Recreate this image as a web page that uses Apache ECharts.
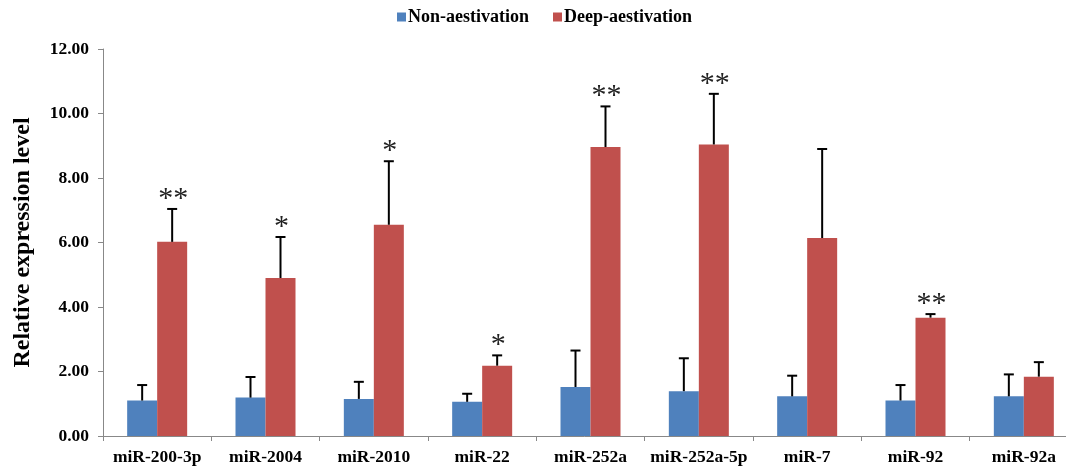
<!DOCTYPE html>
<html>
<head>
<meta charset="utf-8">
<script src="https://cdn.jsdelivr.net/npm/echarts@6/dist/echarts.min.js"></script>
<style>
  html, body { margin: 0; padding: 0; background: #fff; }
  #chart { width: 1066px; height: 469px; }
</style>
</head>
<body>
<div id="chart"></div>
<script>
// 类别与数据
var categories = ['miR-200-3p', 'miR-2004', 'miR-2010', 'miR-22', 'miR-252a', 'miR-252a-5p', 'miR-7', 'miR-92', 'miR-92a'];
var nonMean = [1.10, 1.19, 1.15, 1.06, 1.52, 1.39, 1.23, 1.10, 1.23];
var nonErrTop = [1.58, 1.83, 1.68, 1.31, 2.65, 2.41, 1.87, 1.58, 1.91];
var deepMean = [6.02, 4.90, 6.55, 2.18, 8.96, 9.04, 6.14, 3.67, 1.84];
var deepErrTop = [7.04, 6.17, 8.52, 2.50, 10.22, 10.61, 8.90, 3.78, 2.29];
var marks = ['**', '*', '*', '*', '**', '**', '', '**', ''];
var yTicks = [0, 2, 4, 6, 8, 10, 12];

var barW = 30;
var serif = '"Liberation Serif", "Times New Roman", serif';

function errorSeries(mean, top, sign, withMarks) {
  var data = mean.map(function (v, i) {
    return [i, v, top[i], withMarks ? marks[i] : ''];
  });
  return {
    type: 'custom',
    silent: true,
    z: 5,
    encode: { x: 0, y: [1, 2] },
    data: data,
    renderItem: function (params, api) {
      var idx = api.value(0);
      var base = api.coord([idx, api.value(1)]);
      var hi = api.coord([idx, api.value(2)]);
      var x = base[0] + sign * barW / 2;
      var kids = [
        { type: 'line', shape: { x1: x, y1: base[1], x2: x, y2: hi[1] }, style: { stroke: '#000', lineWidth: 2 } },
        { type: 'line', shape: { x1: x - 5, y1: hi[1], x2: x + 5, y2: hi[1] }, style: { stroke: '#000', lineWidth: 2 } }
      ];
      var m = data[params.dataIndex][3];
      if (m) {
        kids.push({
          type: 'text',
          style: {
            text: m, x: x + 1, y: hi[1] + 5,
            align: 'center', verticalAlign: 'bottom',
            fill: '#222', font: '30px ' + serif
          }
        });
      }
      return { type: 'group', children: kids };
    }
  };
}

var myChart = echarts.init(document.getElementById('chart'));
var option = {
  animation: false,
  color: ['#4F81BD', '#C0504D'],
  legend: {
    data: ['Non-aestivation', 'Deep-aestivation'],
    top: 3,
    left: 392,
    itemWidth: 9,
    itemHeight: 9,
    itemGap: 24,
    icon: 'rect',
    textStyle: { color: '#000', fontFamily: serif, fontWeight: 'bold', fontSize: 18, padding: [0, 0, 0, -3] }
  },
  grid: { left: 103, right: -12, top: 49, bottom: 33, outerBoundsMode: 'none', containLabel: false },
  xAxis: {
    type: 'category',
    data: categories,
    axisLine: { lineStyle: { color: '#888', width: 1 } },
    axisTick: { show: true, length: 5, lineStyle: { color: '#888' } },
    axisLabel: { interval: 0, color: '#000', fontFamily: serif, fontWeight: 'bold', fontSize: 17.5, margin: 12 }
  },
  yAxis: {
    type: 'value',
    min: 0,
    max: 12,
    interval: 2,
    name: 'Relative expression level',
    nameLocation: 'middle',
    nameGap: 68,
    nameTextStyle: { color: '#000', fontFamily: serif, fontWeight: 'bold', fontSize: 24 },
    axisLine: { show: true, lineStyle: { color: '#888' } },
    axisTick: { show: true, length: 5, lineStyle: { color: '#888' } },
    splitLine: { show: false },
    axisLabel: {
      color: '#000', fontFamily: serif, fontWeight: 'bold', fontSize: 17.5, margin: 14,
      formatter: function (v) { return yTicks.indexOf(v) >= 0 ? v.toFixed(2) : ''; }
    }
  },
  series: [
    { name: 'Non-aestivation', type: 'bar', barWidth: barW, barGap: '0%', data: nonMean },
    { name: 'Deep-aestivation', type: 'bar', barWidth: barW, barGap: '0%', data: deepMean },
    errorSeries(nonMean, nonErrTop, -1, false),
    errorSeries(deepMean, deepErrTop, 1, true)
  ]
};
myChart.setOption(option);
window.addEventListener('resize', function () {
  myChart.resize();
});
</script>
</body>
</html>
